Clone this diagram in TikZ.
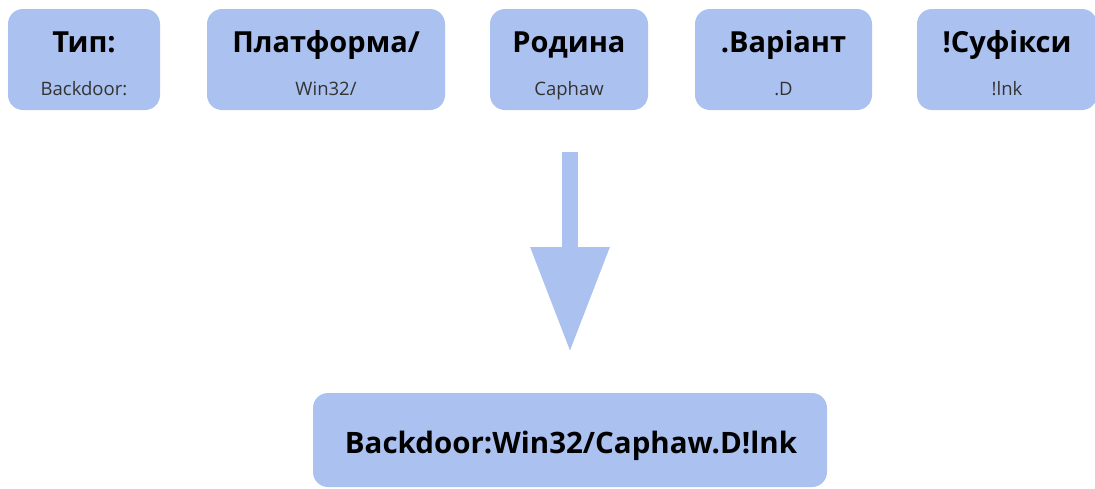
\documentclass[tikz,border=0pt]{standalone}
\usepackage{fontspec}
\setmainfont{Open Sans}
\usetikzlibrary{arrows.meta}
\definecolor{boxblue}{HTML}{ABC1EF}
\begin{document}
\begin{tikzpicture}[x=1pt,y=-1pt,
  blok/.style={fill=boxblue,rounded corners=15pt,inner sep=0pt},
  head/.style={anchor=base,font=\fontsize{29}{32}\selectfont\bfseries},
  sub/.style={anchor=base,text=black!80,font=\fontsize{18.5}{20}\selectfont},
  strelka/.style={draw=boxblue,line width=16pt,-{Triangle[length=105pt 0,width=75pt 0]}}]
\clip (0,0) rectangle (1095,488);
\node [blok,minimum width=152pt,minimum height=101pt] (tip) at (84,59.5) {};
\node [head] (tipH) at (84,52.5) {Тип:};
\node [sub] (tipS) at (84,95.5) {Backdoor:};
\node [blok,minimum width=238pt,minimum height=101pt] (plat) at (326,59.5) {};
\node [head] (platH) at (326,52.5) {Платформа/};
\node [sub] (platS) at (326,95.5) {Win32/};
\node [blok,minimum width=158pt,minimum height=101pt] (rod) at (569,59.5) {};
\node [head] (rodH) at (569,52.5) {Родина};
\node [sub] (rodS) at (569,95.5) {Caphaw};
\node [blok,minimum width=177pt,minimum height=101pt] (var) at (783.5,59.5) {};
\node [head] (varH) at (783.5,52.5) {.Варіант};
\node [sub] (varS) at (783.5,95.5) {.D};
\node [blok,minimum width=180pt,minimum height=101pt] (suf) at (1007,59.5) {};
\node [head] (sufH) at (1007,52.5) {!Суфікси};
\node [sub] (sufS) at (1007,95.5) {!lnk};
\coordinate (arrTop) at (570,152);
\coordinate (arrTip) at (570,352);
\draw [strelka] (arrTop) -- (arrTip);
\node [blok,minimum width=514pt,minimum height=94pt] (res) at (570,440) {};
\node [head,font=\fontsize{29.5}{32}\selectfont\bfseries] (resT) at (571,453) {Backdoor:Win32/Caphaw.D!lnk};
\end{tikzpicture}
\end{document}
